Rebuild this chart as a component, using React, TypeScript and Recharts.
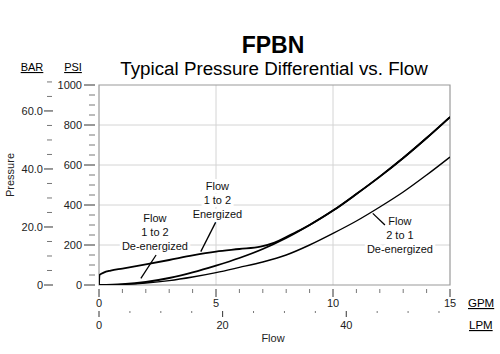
import {
  LineChart,
  Line,
  XAxis,
  YAxis,
  CartesianGrid,
  ReferenceLine,
  ReferenceArea,
  ReferenceDot,
} from 'recharts'

const FONT = '"Liberation Sans", Arial, sans-serif'
const LPM_PER_GPM = 3.78541
const PSI_PER_BAR = 14.5038

// flow in GPM, pressure in PSI
const gpm = [0, 1, 2, 3, 4, 5, 6, 7, 8, 9, 10, 11, 12, 13, 14, 15]
const deEnergized12 = [0, 4, 15, 35, 63, 97, 135, 180, 235, 300, 372, 455, 542, 635, 735, 840]
const deEnergized21 = [0, 3, 10, 22, 40, 62, 88, 115, 150, 200, 258, 320, 390, 465, 550, 640]

const energizedGpm = [0, 0.02, 0.2, 0.5, 1, 2, 3, 4, 5, 6, 6.9, 7.5, 8, 8.6, 9, 10, 11, 12, 13, 14, 15]
const energizedPsi = [0, 50, 62, 72, 82, 103, 125, 148, 167, 180, 192, 212, 240, 275, 300, 372, 455, 542, 635, 735, 840]

const gpmTicks = [0, 1, 2, 3, 4, 5, 6, 7, 8, 9, 10, 11, 12, 13, 14, 15]
const lpmTicks = [0, 5, 10, 15, 20, 25, 30, 35, 40, 45, 50, 55]
const psiTicks = [0, 50, 100, 150, 200, 250, 300, 350, 400, 450, 500, 550, 600, 650, 700, 750, 800, 850, 900, 950, 1000]
const barTicks = [0, 5, 10, 15, 20, 25, 30, 35, 40, 45, 50, 55, 60, 65, 70]

const gridGpm = [5, 10]
const gridPsi = [200, 400, 600, 800]

const notes = [
  { gpm: 2.39, psi: 265, lines: ['Flow', '1 to 2', 'De-energized'] },
  { gpm: 5.06, psi: 425, lines: ['Flow', '1 to 2', 'Energized'] },
  { gpm: 12.86, psi: 250, lines: ['Flow', '2 to 1', 'De-energized'] },
]

const pointers = [
  [{ x: 2.44, y: 150 }, { x: 1.79, y: 33 }],
  [{ x: 5.0, y: 317 }, { x: 4.35, y: 167 }],
  [{ x: 11.7, y: 358 }, { x: 12.22, y: 300 }],
]

const toPoints = (xs: number[], ys: number[]) =>
  xs.map((x, i) => ({ gpm: x, lpm: x * LPM_PER_GPM, psi: ys[i] }))

const deEnergized12Data = toPoints(gpm, deEnergized12)
const deEnergized21Data = toPoints(gpm, deEnergized21)
const energizedData = toPoints(energizedGpm, energizedPsi)

function PsiTick({ x, y, payload }: any) {
  const v = payload.value
  const major = v % 200 === 0
  return (
    <g>
      <line x1={x - (major ? 15 : 10)} x2={x - 4} y1={y} y2={y} stroke={major ? '#333' : '#777'} />
      {major && (
        <text x={x - 17} y={y} dy={4} textAnchor="end" fontSize={11} fill="#222" fontFamily={FONT}>
          {v}
        </text>
      )}
    </g>
  )
}

function BarTick({ x, y, payload }: any) {
  const v = payload.value
  const major = v % 20 === 0
  return (
    <g>
      <line x1={x - (major ? 12 : 9)} x2={x - (major ? 3 : 4)} y1={y} y2={y} stroke={major ? '#333' : '#777'} />
      {major && (
        <text x={x - 13} y={y} dy={4} textAnchor="end" fontSize={11} fill="#222" fontFamily={FONT}>
          {v === 0 ? '0' : v.toFixed(1)}
        </text>
      )}
    </g>
  )
}

function GpmTick({ x, y, payload }: any) {
  const v = payload.value
  const major = v % 5 === 0
  return (
    <g>
      <line x1={x} x2={x} y1={y + 4} y2={y + (major ? 12 : 8)} stroke={major ? '#333' : '#777'} />
      {major && (
        <text x={x} y={y + 22} textAnchor="middle" fontSize={11} fill="#222" fontFamily={FONT}>
          {v}
        </text>
      )}
    </g>
  )
}

function LpmTick({ x, y, payload }: any) {
  const v = payload.value
  const major = v % 20 === 0
  return (
    <g>
      <line x1={x} x2={x} y1={y + 4} y2={y + (major ? 10 : 6)} stroke={major ? '#333' : '#777'} />
      {major && (
        <text x={x} y={y + 22} textAnchor="middle" fontSize={11} fill="#222" fontFamily={FONT}>
          {v}
        </text>
      )}
    </g>
  )
}

function NoteLabel({ cx, cy, lines }: any) {
  return (
    <g>
      {lines.map((t: string, i: number) => (
        <text
          key={i}
          x={cx}
          y={cy + (i - 1) * 14 + 4}
          textAnchor="middle"
          fontSize={11}
          fill="#111"
          fontFamily={FONT}
          stroke="#fff"
          strokeWidth={6}
          paintOrder="stroke"
        >
          {t}
        </text>
      ))}
    </g>
  )
}

export default function App() {
  return (
    <div style={{ position: 'absolute', left: 0, top: 0, width: 500, height: 354, background: '#fff', fontFamily: FONT }}>
      <LineChart width={500} height={354} margin={{ top: 85, right: 50, bottom: 17, left: 0 }}>
        <CartesianGrid
          xAxisId="gpm"
          yAxisId="psi"
          stroke="#d4d4d4"
          horizontalValues={gridPsi}
          verticalValues={gridGpm}
        />
        <XAxis
          xAxisId="gpm"
          dataKey="gpm"
          type="number"
          domain={[0, 15]}
          ticks={gpmTicks}
          interval={0}
          height={22}
          tickSize={0}
          tickMargin={0}
          axisLine={false}
          tickLine={false}
          tick={<GpmTick />}
          allowDataOverflow
        />
        <XAxis
          xAxisId="lpm"
          dataKey="lpm"
          type="number"
          domain={[0, 15 * LPM_PER_GPM]}
          ticks={lpmTicks}
          interval={0}
          height={30}
          tickSize={0}
          tickMargin={0}
          axisLine={false}
          tickLine={false}
          tick={<LpmTick />}
          allowDataOverflow
        />
        <YAxis
          yAxisId="psi"
          type="number"
          domain={[0, 1000]}
          ticks={psiTicks}
          interval={0}
          width={43}
          tickSize={0}
          tickMargin={0}
          axisLine={false}
          tickLine={false}
          tick={<PsiTick />}
          allowDataOverflow
        />
        <YAxis
          yAxisId="tbar"
          type="number"
          domain={[0, 1000 / PSI_PER_BAR]}
          ticks={barTicks}
          interval={0}
          width={56}
          tickSize={0}
          tickMargin={0}
          axisLine={false}
          tickLine={false}
          tick={<BarTick />}
          allowDataOverflow
        />
        <ReferenceArea
          xAxisId="gpm"
          yAxisId="psi"
          x1={0}
          x2={15}
          y1={0}
          y2={1000}
          fill="none"
          stroke="#9a9a9a"
          strokeWidth={1.2}
        />
        {/* carries the LPM scale, drawn without a stroke */}
        <Line
          xAxisId="lpm"
          yAxisId="psi"
          data={deEnergized12Data}
          dataKey="psi"
          type="monotone"
          stroke="none"
          dot={false}
          isAnimationActive={false}
        />
        <Line
          xAxisId="gpm"
          yAxisId="psi"
          data={deEnergized21Data}
          dataKey="psi"
          type="monotone"
          stroke="#000"
          strokeWidth={1.4}
          dot={false}
          isAnimationActive={false}
        />
        <Line
          xAxisId="gpm"
          yAxisId="psi"
          data={deEnergized12Data}
          dataKey="psi"
          type="monotone"
          stroke="#000"
          strokeWidth={1.8}
          dot={false}
          isAnimationActive={false}
        />
        <Line
          xAxisId="gpm"
          yAxisId="psi"
          data={energizedData}
          dataKey="psi"
          type="monotone"
          stroke="#000"
          strokeWidth={1.8}
          dot={false}
          isAnimationActive={false}
        />
        {pointers.map((seg, i) => (
          <ReferenceLine key={i} xAxisId="gpm" yAxisId="psi" segment={seg} stroke="#000" strokeWidth={1.3} />
        ))}
        {notes.map((n, i) => (
          <ReferenceDot
            key={i}
            xAxisId="gpm"
            yAxisId="psi"
            x={n.gpm}
            y={n.psi}
            r={1}
            shape={(p: any) => <NoteLabel cx={p.cx} cy={p.cy} lines={n.lines} />}
          />
        ))}
      </LineChart>
      <svg
        width={500}
        height={354}
        style={{ position: 'absolute', left: 0, top: 0, pointerEvents: 'none' }}
        fontFamily={FONT}
      >
        <text x={273} y={53} textAnchor="middle" fontSize={23} fontWeight="bold" fill="#000">
          FPBN
        </text>
        <text x={274} y={75} textAnchor="middle" fontSize={18.8} fill="#000">
          Typical Pressure Differential vs. Flow
        </text>
        <text x={32} y={71} textAnchor="middle" fontSize={11} fill="#000" textDecoration="underline">
          BAR
        </text>
        <text x={73} y={71} textAnchor="middle" fontSize={11} fill="#000" textDecoration="underline">
          PSI
        </text>
        <text x={468} y={307} fontSize={11.5} fill="#000" textDecoration="underline">
          GPM
        </text>
        <text x={469} y={329} fontSize={11.5} fill="#000" textDecoration="underline">
          LPM
        </text>
        <text x={273} y={342} textAnchor="middle" fontSize={11} fill="#222">
          Flow
        </text>
        <text x={14} y={175} textAnchor="middle" fontSize={11} fill="#222" transform="rotate(-90 14 175)">
          Pressure
        </text>
      </svg>
    </div>
  )
}
